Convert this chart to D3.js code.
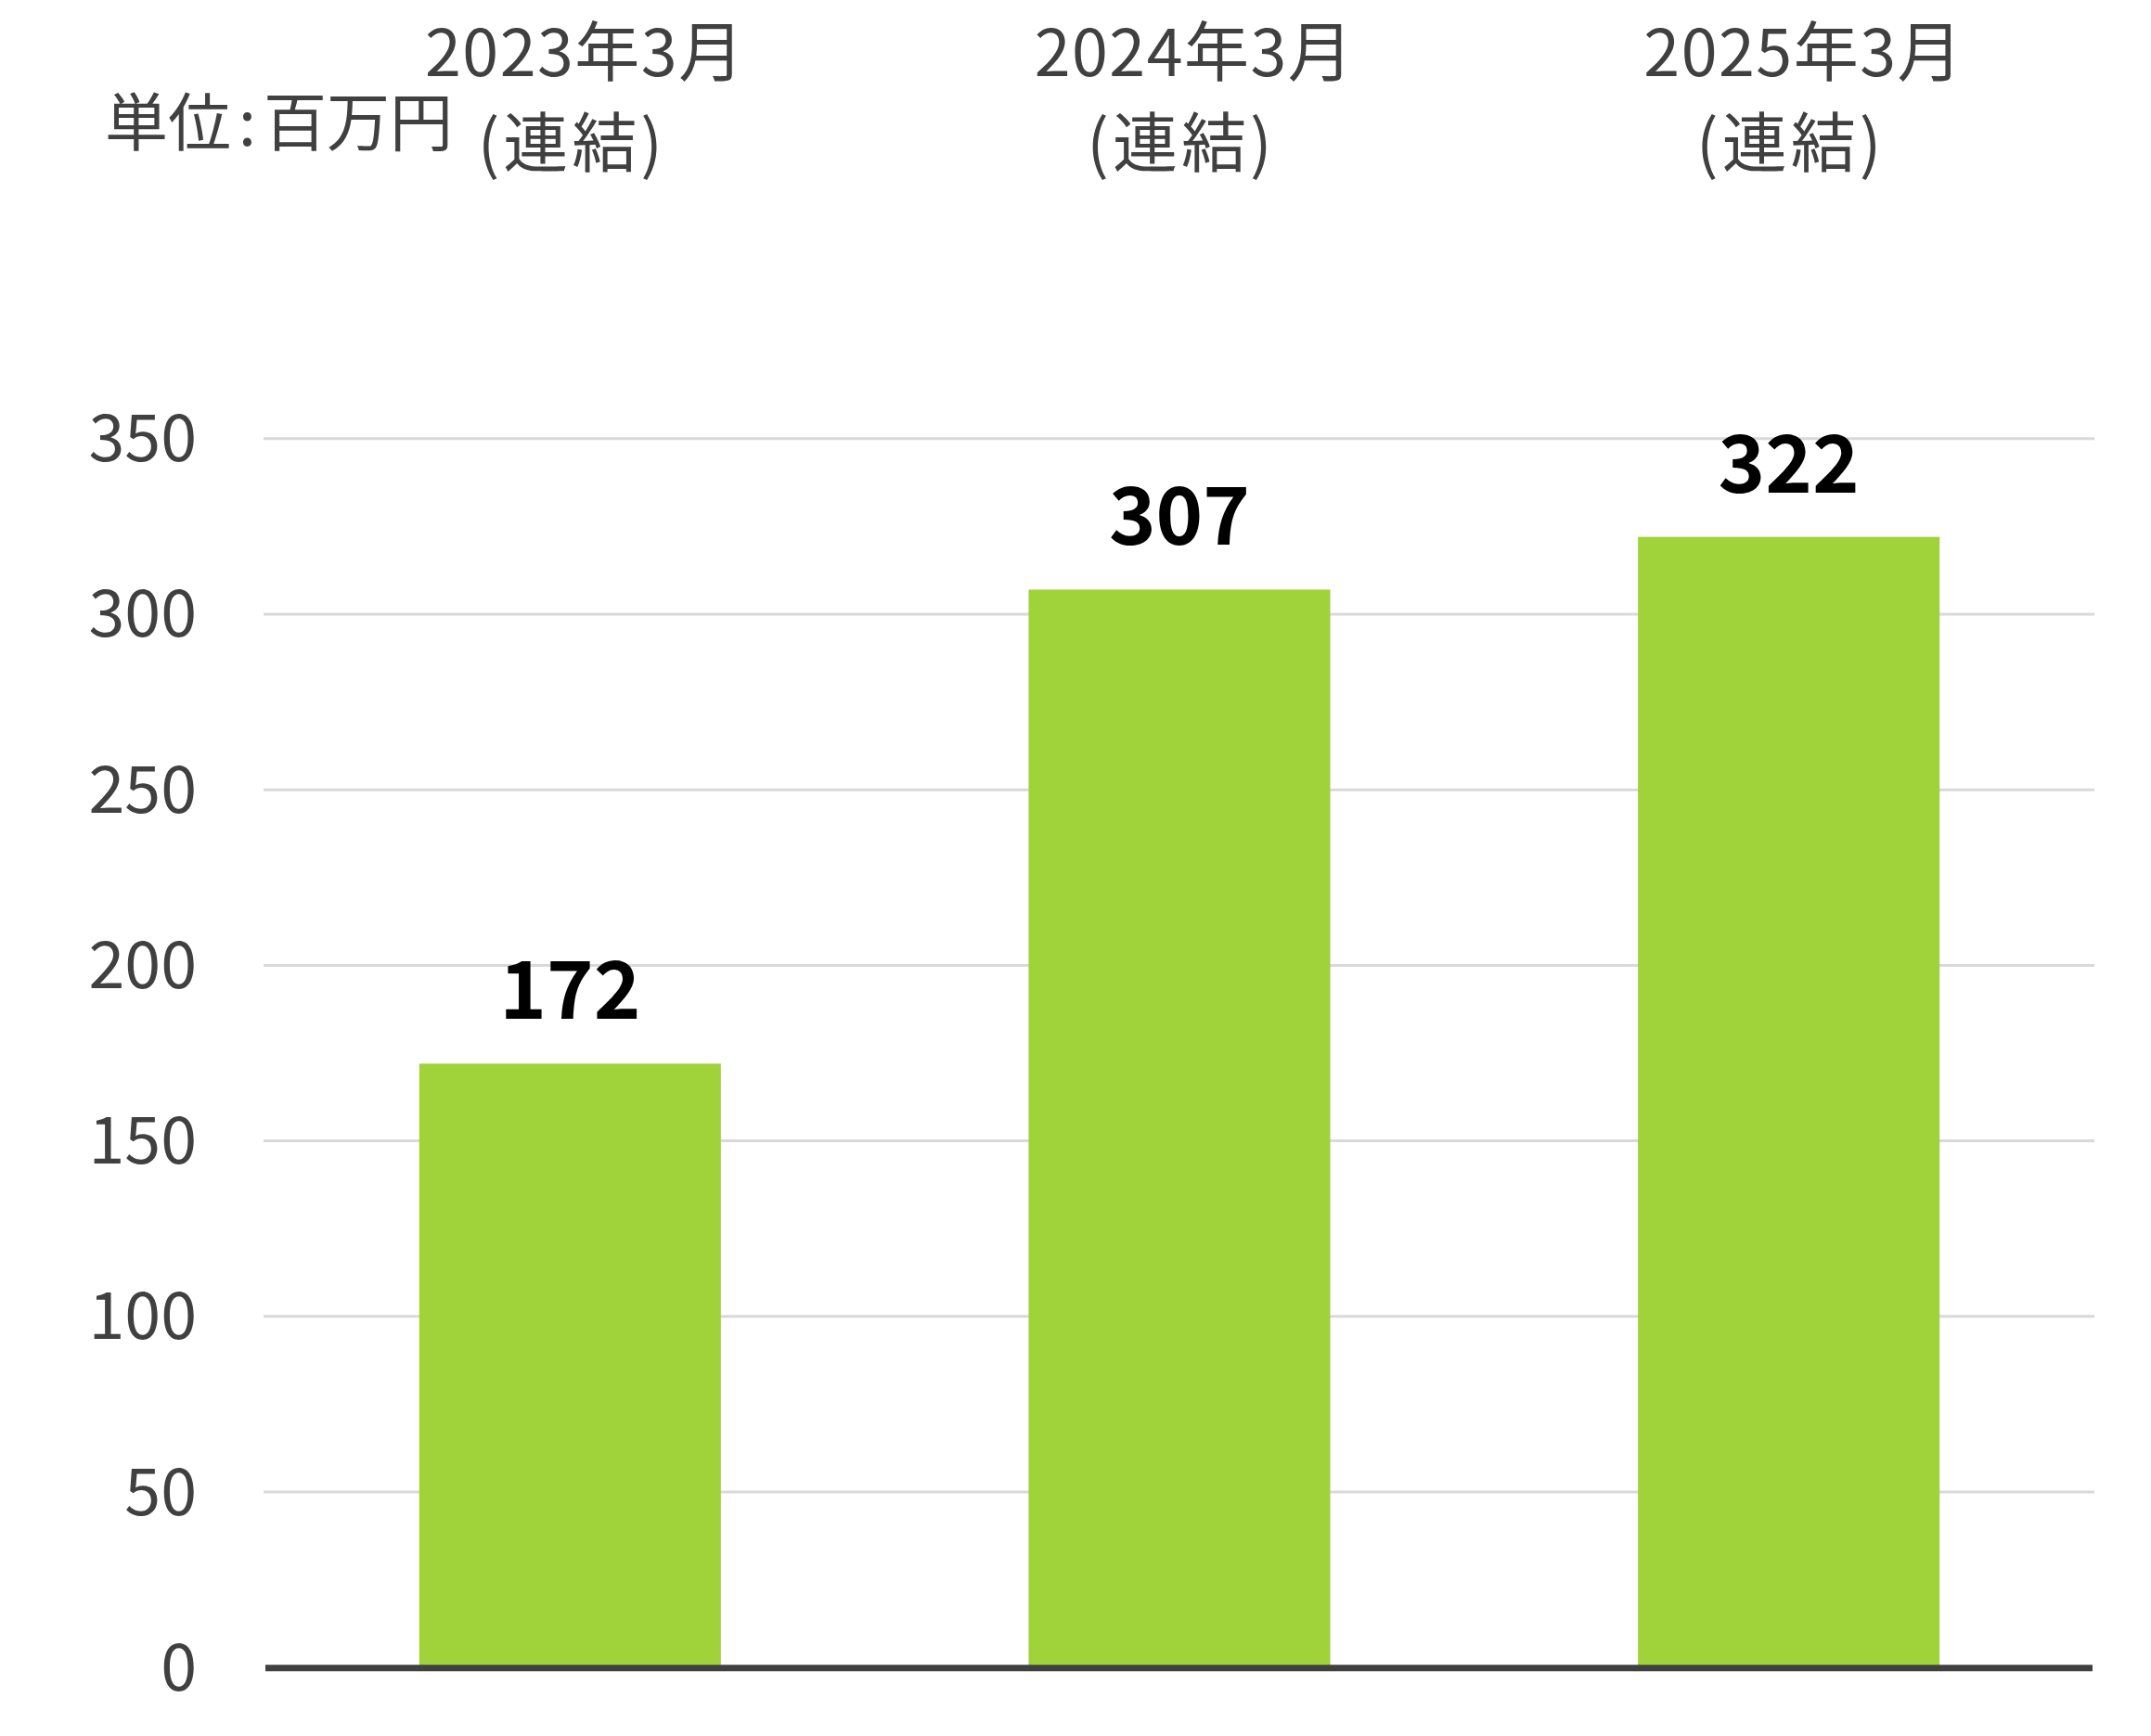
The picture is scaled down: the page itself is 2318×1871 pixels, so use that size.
<!DOCTYPE html>
<html>
<head>
<meta charset="utf-8">
<script src="https://cdn.jsdelivr.net/npm/d3@7"></script>
<style>
  html, body { margin: 0; padding: 0; background: #ffffff; }
  svg { display: block; }
</style>
</head>
<body>
<script>
const categoriesLine1 = ["2023年3月", "2024年3月", "2025年3月"];
const categoriesLine2 = ["(連結)", "(連結)", "(連結)"];
const values = [172, 307, 322];
const yTicks = [0, 50, 100, 150, 200, 250, 300, 350];
const unitParts = ["単位", ":", "百万円"];

const W = 2318, H = 1871;
const svg = d3.select("body").append("svg").attr("width", W).attr("height", H);

const font = "'Noto Sans CJK JP', 'Noto Sans', sans-serif";
const textColor = "#404040";

const x = d3.scaleBand().domain(d3.range(values.length)).range([286, 2256])
  .paddingInner(0.505).paddingOuter(0.2525);
const y = d3.scaleLinear().domain([0, 350]).range([1797.3, 472.7]);

// gridlines
svg.append("g").selectAll("line").data(yTicks.filter(d => d > 0)).join("line")
  .attr("x1", 284).attr("x2", 2257)
  .attr("y1", d => y(d)).attr("y2", d => y(d))
  .attr("stroke", "#d9d9d9").attr("stroke-width", 3);

// y axis labels
const yAxis = d3.axisLeft(y).tickValues(yTicks).tickSize(0).tickPadding(0);
const ya = svg.append("g").attr("transform", "translate(212,0)").call(yAxis);
ya.select(".domain").remove();
ya.selectAll("text")
  .attr("font-family", font).attr("font-size", 70).attr("fill", textColor)
  .attr("dy", 24).attr("x", 0);

// bars
svg.append("g").selectAll("rect").data(values).join("rect")
  .attr("x", (d, i) => x(i)).attr("width", x.bandwidth())
  .attr("y", d => y(d)).attr("height", d => y(0) - y(d))
  .attr("fill", "#a0d23a");

// baseline axis
svg.append("line").attr("x1", 286).attr("x2", 2255)
  .attr("y1", y(0) + 0.5).attr("y2", y(0) + 0.5)
  .attr("stroke", "#404040").attr("stroke-width", 7);

// value labels
svg.append("g").selectAll("text").data(values).join("text")
  .attr("x", (d, i) => x(i) + x.bandwidth() / 2)
  .attr("y", d => y(d) - 48)
  .attr("text-anchor", "middle")
  .attr("font-family", font).attr("font-weight", 700).attr("font-size", 86)
  .attr("fill", "#000000")
  .text(d => d);

// category labels at top
const cg = svg.append("g");
cg.selectAll("text.l1").data(categoriesLine1).join("text").attr("class", "l1")
  .attr("x", (d, i) => x(i) + x.bandwidth() / 2 + 16).attr("y", 82)
  .attr("text-anchor", "middle")
  .attr("letter-spacing", 1.5)
  .attr("font-family", font).attr("font-size", 70).attr("fill", textColor)
  .text(d => d);
cg.selectAll("text.l2").data(categoriesLine2).join("text").attr("class", "l2")
  .attr("x", (d, i) => x(i) + x.bandwidth() / 2 + 2).attr("y", 180)
  .attr("text-anchor", "middle")
  .attr("letter-spacing", 4)
  .attr("font-family", font).attr("font-size", 70).attr("fill", textColor)
  .text(d => d);

// unit label
const ut = svg.append("text").attr("x", 113).attr("y", 157)
  .attr("font-family", font).attr("font-size", 68).attr("fill", textColor);
ut.selectAll("tspan").data(unitParts).join("tspan")
  .attr("dx", (d, i) => i === 0 ? 0 : 8)
  .text(d => d);
</script>
</body>
</html>
